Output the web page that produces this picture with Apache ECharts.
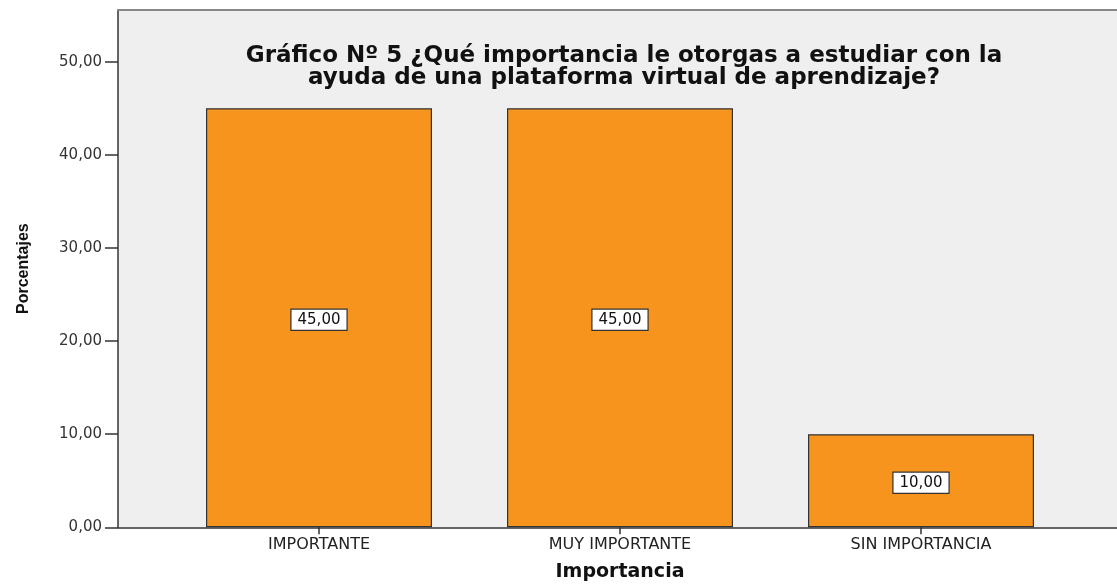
<!DOCTYPE html>
<html><head><meta charset="utf-8">
<script src="https://cdn.jsdelivr.net/npm/echarts@6/dist/echarts.min.js"></script>
<style>html,body{margin:0;padding:0;background:#fff}#c{width:1117px;height:584px}</style>
</head><body><div id="c"></div>
<script>
const categories = ['IMPORTANTE', 'MUY IMPORTANTE', 'SIN IMPORTANCIA'];
const percentages = [45.00, 45.00, 10.00];
const yTicks = [0, 10, 20, 30, 40, 50];
const titleText = 'Gráfico Nº 5 ¿Qué importancia le otorgas a estudiar con la\nayuda de una plataforma virtual de aprendizaje?';
const fmt = v => v.toFixed(2).replace('.', ',');

const chart = echarts.init(document.getElementById('c'), null, {renderer: 'canvas'});
chart.setOption({
  animation: false,
  title: {
    text: titleText, left: 619, top: 40, textAlign: 'center',
    textStyle: {fontFamily: 'DejaVu Sans', fontWeight: 'bold', fontSize: 23, color: '#111', lineHeight: 22}
  },
  grid: [
    {left: 118, right: 0, top: 10, bottom: 56.7, show: true, backgroundColor: '#efefef', borderWidth: 0, z: 0, outerBoundsMode: 'none', containLabel: false},
    {left: 168.5, width: 903, top: 10, bottom: 56.7, show: false, outerBoundsMode: 'none', containLabel: false}
  ],
  xAxis: [
    {gridIndex: 0, type: 'value', min: 0, max: 1, position: 'bottom', axisLabel: {show: false}, axisTick: {show: false}, splitLine: {show: false},
     axisLine: {show: true, lineStyle: {color: '#333', width: 1.5}}},
    {gridIndex: 0, type: 'value', min: 0, max: 1, position: 'top', axisLabel: {show: false}, axisTick: {show: false}, splitLine: {show: false},
     axisLine: {show: true, lineStyle: {color: '#888', width: 2}}},
    {gridIndex: 1, type: 'category', data: categories, position: 'bottom',
     axisLine: {show: false},
     axisTick: {show: true, alignWithLabel: true, length: 7, lineStyle: {color: '#333', width: 1.5}},
     axisLabel: {color: '#222', fontSize: 16, fontFamily: 'DejaVu Sans', margin: 10},
     name: 'Importancia', nameLocation: 'middle', nameGap: 35,
     nameTextStyle: {fontFamily: 'DejaVu Sans', fontWeight: 'bold', fontSize: 19, color: '#111'}}
  ],
  yAxis: [
    {gridIndex: 0, type: 'value', min: 0, max: 1, show: false},
    {gridIndex: 1, type: 'value', min: 0, max: 55.55, interval: 10, offset: 50.5,
     axisLine: {show: true, lineStyle: {color: '#333', width: 1.5}},
     axisTick: {show: true, length: 13, lineStyle: {color: '#333', width: 1.5},
       customValues: yTicks},
     axisLabel: {color: '#333', fontSize: 15, fontFamily: 'DejaVu Sans', margin: 16,
       customValues: yTicks, formatter: v => fmt(v)},
     splitLine: {show: false},
     name: 'Porcentajes', nameLocation: 'middle', nameGap: 86, nameRotate: 90,
     nameTextStyle: {fontFamily: 'Liberation Sans', fontWeight: 'bold', fontSize: 16, color: '#111'}}
  ],
  series: [{
    type: 'bar', xAxisIndex: 2, yAxisIndex: 1, data: percentages,
    barWidth: 226,
    itemStyle: {color: '#f7941e', borderColor: '#333', borderWidth: 1.2},
    label: {show: true, position: 'inside', formatter: p => fmt(p.value), offset: [0, 2],
      color: '#111', fontSize: 15, fontFamily: 'DejaVu Sans',
      backgroundColor: '#fff', borderColor: '#333', borderWidth: 1.2, padding: [3, 6, 2, 6]}
  }]
});
</script></body></html>
